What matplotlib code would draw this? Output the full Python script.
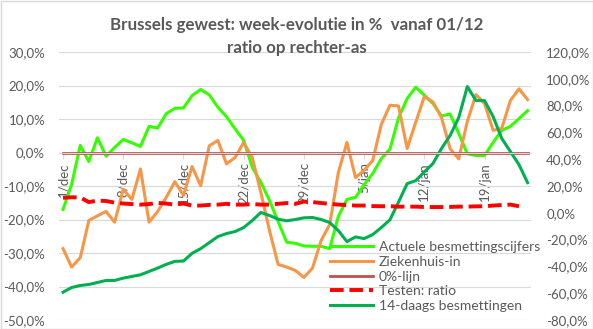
import numpy as np
import matplotlib.pyplot as plt
from matplotlib.patches import Rectangle

plt.rcParams['font.family'] = ['Lato', 'DejaVu Sans']

days = np.arange(55)
tick_days = [0, 7, 14, 21, 28, 35, 42, 49]
tick_labels = ['1/dec', '8/dec', '15/dec', '22/dec', '29/dec', '5/jan', '12/jan', '19/jan']

actueel = [-17.0, -9.5, 2.1, -2.7, 4.4, -1.1, 1.5, 3.9, 2.9, 1.8, 7.8, 7.3, 11.6, 13.2,
           13.3, 17.0, 18.8, 17.2, 13.5, 10.7, 7.1, 3.6, -4.4, -8.9, -14.3, -20.6, -26.8,
           -27.1, -27.9, -28.0, -28.0, -28.7, -19.1, -14.0, -13.4, -9.6, -6.3, -1.8, 1.0,
           10.3, 16.1, 19.5, 17.1, 14.6, 10.9, 11.5, 5.7, -0.4, -0.9, -0.9, 3.0, 6.6, 7.8,
           10.1, 12.5]
ziekenhuis = [-28.7, -34.2, -31.4, -20.3, -18.9, -17.6, -20.8, -11.0, -14.0, -4.9, -20.8,
              -17.6, -13.4, -8.7, -12.8, -4.2, -9.9, 2.0, 3.6, -3.4, -1.5, 3.0, -1.5, -12.0,
              -23.3, -33.4, -34.2, -35.2, -37.3, -34.5, -26.3, -21.5, -6.0, 3.0, -7.5, -5.3,
              -2.4, 8.4, 14.1, 13.9, 1.2, 9.0, 16.7, 15.1, 10.4, 1.1, -1.9, 9.3, 17.3, 14.6,
              6.6, 7.2, 15.5, 19.0, 15.8]
nullijn = [0.0] * 55
testen_ratio = [11.2, 11.6, 11.4, 8.0, 9.1, 8.8, 7.6, 6.9, 6.5, 6.1, 6.5, 7.4, 6.9, 6.1, 6.9,
                5.4, 5.4, 5.9, 6.1, 6.7, 6.1, 6.1, 6.5, 6.1, 6.1, 6.7, 7.3, 6.7, 8.4, 8.0,
                7.3, 6.7, 6.1, 5.8, 5.4, 5.4, 5.0, 4.9, 4.9, 4.6, 4.6, 4.6, 4.3, 4.3, 4.3,
                4.4, 4.6, 4.6, 4.8, 4.9, 5.4, 5.8, 6.1, 4.9, np.nan]
besm_14d = [-41.7, -40.3, -39.7, -39.4, -38.8, -38.2, -38.2, -37.5, -37.0, -36.5, -35.5,
            -34.5, -33.4, -32.5, -32.4, -30.1, -28.7, -26.9, -25.1, -24.2, -23.6, -22.4,
            -20.3, -17.9, -18.8, -19.9, -20.4, -20.0, -19.5, -19.4, -20.0, -20.9, -23.3,
            -26.6, -25.2, -25.7, -24.5, -22.4, -20.1, -14.8, -9.3, -8.4, -5.8, -3.3, 1.2,
            5.1, 10.4, 19.7, 15.5, 15.5, 10.7, 4.2, 0.3, -3.6, -9.0]

grey = '#595959'
W, H = 593, 329
fig = plt.figure(figsize=(W / 100, H / 100), dpi=100)
ax = fig.add_axes([59 / W, 1 - 320 / H, (531 - 59) / W, (320 - 52) / H])
ax2 = ax.twinx()

l1, = ax.plot(days, actueel, color='#33FF00', lw=2.2, label='Actuele besmettingscijfers')
l2, = ax.plot(days, ziekenhuis, color='#F79646', lw=2.2, label='Ziekenhuis-in')
l3, = ax.plot(days, nullijn, color='#C0504D', lw=2.0, label='0%-lijn')
l5, = ax.plot(days, besm_14d, color='#00B050', lw=2.2, label='14-daags besmettingen')
l4, = ax2.plot(days, testen_ratio, color='#FF0000', lw=2.8, ls=(0, (3.5, 1.5)),
               label='Testen: ratio')

ax.set_xlim(-0.47, 54.4)
ax.set_ylim(-50, 30)
ax2.set_ylim(-80, 120)
ax.set_yticks(np.arange(-50, 31, 10))
ax.set_yticklabels([f'{v:.1f}%'.replace('.', ',') for v in np.arange(-50, 31, 10)])
ax2.set_yticks(np.arange(-80, 121, 20))
ax2.set_yticklabels([f'{v:.1f}%'.replace('.', ',') for v in np.arange(-80, 121, 20)])
ax.grid(axis='y', color='#d9d9d9', lw=0.8)
ax.set_axisbelow(True)

ax.set_xticks(tick_days)
ax.set_xticklabels(tick_labels)
for a in (ax, ax2):
    for s in a.spines.values():
        s.set_visible(False)
ax.spines['bottom'].set_visible(True)
ax.spines['bottom'].set_position(('data', 0))
ax.spines['bottom'].set_color('#d9d9d9')
ax.tick_params(axis='x', length=4, color='#d9d9d9', pad=3, labelsize=9.5,
               labelcolor=grey, labelrotation=90)
ax.tick_params(axis='y', length=0, pad=10, labelsize=9.5, labelcolor=grey)
ax2.tick_params(axis='y', length=0, pad=11, labelsize=9.5, labelcolor=grey)

fig.text(297 / W, 1 - 25 / H, 'Brussels gewest: week-evolutie in %  vanaf 01/12',
         ha='center', va='center', fontsize=12.2, fontweight='bold', color=grey)
fig.text(297 / W, 1 - 48 / H, 'ratio op rechter-as',
         ha='center', va='center', fontsize=12.2, fontweight='bold', color=grey)

leg = ax2.legend(handles=[l1, l2, l3, l4, l5], loc='upper left',
                 bbox_to_anchor=(330 / W, 1 - 241 / H), bbox_transform=fig.transFigure,
                 frameon=False, borderpad=0, borderaxespad=0, fontsize=10,
                 handlelength=3.1, handletextpad=0.4, labelspacing=0.2)
for t in leg.get_texts():
    t.set_color(grey)

fig.patches.append(Rectangle((0.5 / W, 0.5 / H), 1 - 1 / W, 1 - 1 / H,
                             transform=fig.transFigure, fill=False,
                             edgecolor='#d9d9d9', lw=1))

fig.savefig('out.png', dpi=100)
